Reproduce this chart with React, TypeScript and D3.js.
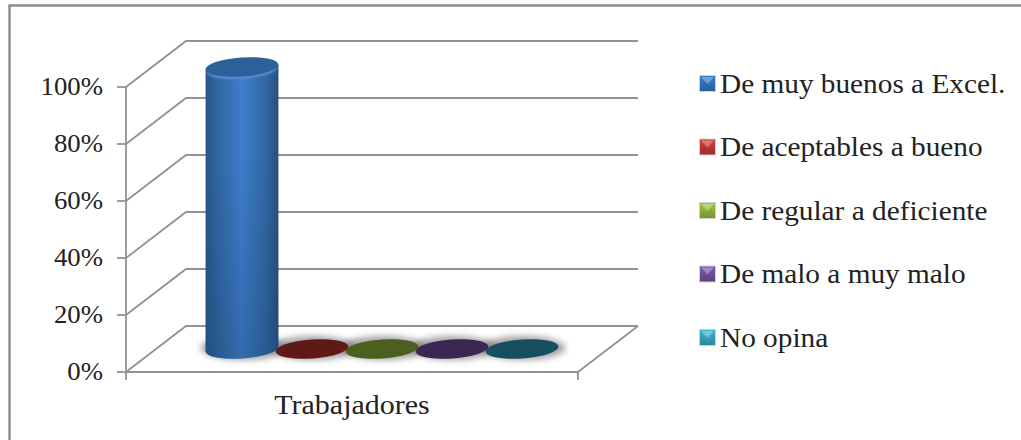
import React from "react";
import * as d3 from "d3";

const categoryLabel = "Trabajadores";
const seriesNames = ["De muy buenos a Excel.", "De aceptables a bueno", "De regular a deficiente", "De malo a muy malo", "No opina"];
const seriesValues = [100, 0, 0, 0, 0];
const tickValues = [0, 20, 40, 60, 80, 100];
const topColors = ["#2b6099", "#5f1a17", "#4c5f1e", "#3b2751", "#174f60"];
const swatchColors = ["#2f6cae", "#b53331", "#86a83a", "#6b4a94", "#2f9ab5"];

const WIDTH = 1021;
const HEIGHT = 440;
const FONT = "'Liberation Serif', 'Times New Roman', serif";
const GRID = "#929292";
const INK = "#222222";

// Chart geometry: front plane of the axis box and the depth offset to the back wall.
const FRONT_X0 = 126;
const FRONT_X1 = 578;
const DEPTH_X = 60;
const DEPTH_Y = -46;
const TILT = -4;

// Horizontally stretched text, as the chart's labels are wider than the plain face.
function Label(props: { x: number; y: number; sx: number; size: number; anchor?: string; children: React.ReactNode }) {
  return (
    <text
      transform={`translate(${props.x},${props.y}) scale(${props.sx},1)`}
      textAnchor={props.anchor ?? "start"}
      fontSize={props.size}
      fill={INK}
    >
      {props.children}
    </text>
  );
}

export default function App() {
  const y = d3.scaleLinear().domain([0, 100]).range([372, 87]);
  const band = d3.scaleBand<number>().domain(d3.range(seriesNames.length)).range([207, 557]);
  const baseY = 349;
  const rx = 36.5;
  const ry = 9.5;
  const rad = (TILT * Math.PI) / 180;
  const ex = rx * Math.cos(rad);
  const ey = rx * Math.sin(rad);

  return (
    <svg
      width={WIDTH}
      height={HEIGHT}
      viewBox={`0 0 ${WIDTH} ${HEIGHT}`}
      style={{ position: "absolute", left: 0, top: 0, display: "block" }}
      fontFamily={FONT}
    >
      <defs>
        <filter id="soft" x="-30%" y="-80%" width="160%" height="260%">
          <feGaussianBlur stdDeviation="3" />
        </filter>
        <filter id="bevel" x="-10%" y="-30%" width="120%" height="160%">
          <feGaussianBlur stdDeviation="1.2" />
        </filter>
        <linearGradient id="barSide" x1="0" x2="1" y1="0" y2="0">
          <stop offset="0" stopColor="#28568a" />
          <stop offset="0.15" stopColor="#30659e" />
          <stop offset="0.5" stopColor="#3e7ecb" />
          <stop offset="0.85" stopColor="#30659e" />
          <stop offset="1" stopColor="#264f7c" />
        </linearGradient>
        <linearGradient id="barFade" x1="0" x2="0" y1="0" y2="1">
          <stop offset="0.3" stopColor="#143a66" stopOpacity="0" />
          <stop offset="1" stopColor="#143a66" stopOpacity="0.28" />
        </linearGradient>
        {swatchColors.map((c, i) => (
          <linearGradient key={c} id={`swatch${i}`} x1="0" x2="0" y1="0" y2="1">
            <stop offset="0" stopColor={d3.color(c)!.brighter(0.5).formatHex()} />
            <stop offset="1" stopColor={d3.color(c)!.darker(0.4).formatHex()} />
          </linearGradient>
        ))}
      </defs>

      <rect width={WIDTH} height={HEIGHT} fill="#ffffff" />
      {/* Outer frame: only its top and left edges fall inside the canvas */}
      <path d={`M${WIDTH},5.5 L9.5,5.5 L9.5,${HEIGHT}`} fill="none" stroke="#8c8c8c" strokeWidth={2.4} />

      {/* Back-wall gridlines with their diagonal run to the front plane */}
      {tickValues.map((t) => (
        <g key={t} fill="none" stroke={GRID} strokeWidth={1.8}>
          <polyline
            points={[
              [FRONT_X0, y(t)],
              [FRONT_X0 + DEPTH_X, y(t) + DEPTH_Y],
              [FRONT_X1 + DEPTH_X, y(t) + DEPTH_Y],
            ].join(" ")}
          />
          <line x1={FRONT_X0 - 9} x2={FRONT_X0} y1={y(t)} y2={y(t)} />
        </g>
      ))}

      {/* Floor front edge, right diagonal and the axis itself */}
      <g stroke={GRID} strokeWidth={1.8} fill="none">
        <line x1={FRONT_X0} x2={FRONT_X1} y1={y(0)} y2={y(0)} />
        <line x1={FRONT_X1} x2={FRONT_X1 + DEPTH_X} y1={y(0)} y2={y(0) + DEPTH_Y} />
        <line x1={FRONT_X0} x2={FRONT_X0} y1={y(100)} y2={y(0) + 8} />
        <line x1={FRONT_X1} x2={FRONT_X1} y1={y(0)} y2={y(0) + 8} />
      </g>

      {tickValues.map((t) => (
        <Label key={t} x={103} y={y(t) + 8} sx={1.05} size={25.5} anchor="end">
          {t}%
        </Label>
      ))}

      {/* Soft floor shadows sit under every cylinder */}
      {seriesValues.map((_, i) => {
        const cx = band(i)! + band.bandwidth() / 2;
        return (
          <ellipse key={i} cx={cx + 1} cy={baseY - 1} rx={rx + 6} ry={ry + 2.5} fill="#666" opacity={0.6} filter="url(#soft)" />
        );
      })}

      {/* Cylinders, drawn from their values */}
      {seriesValues.map((v, i) => {
        const cx = band(i)! + band.bandwidth() / 2;
        const h = ((y(0) - y(v)) * 282) / 285;
        const top = baseY - h;
        const side = `M${cx - ex},${top - ey} L${cx - ex},${baseY - ey} A${rx},${ry} ${TILT} 0 0 ${cx + ex},${baseY + ey} L${cx + ex},${top + ey} Z`;
        return (
          <g key={seriesNames[i]}>
            {v > 0 && (
              <>
                <path d={side} fill="url(#barSide)" />
                <path d={side} fill="url(#barFade)" />
                {/* Light bevel below the rim of the top face */}
                <ellipse
                  transform={`rotate(${TILT} ${cx} ${top + 2})`}
                  cx={cx}
                  cy={top + 2}
                  rx={rx - 1}
                  ry={ry}
                  fill="#5a94d8"
                  filter="url(#bevel)"
                />
              </>
            )}
            <ellipse transform={`rotate(${TILT} ${cx} ${top})`} cx={cx} cy={top} rx={rx} ry={ry} fill={topColors[i]} />
          </g>
        );
      })}

      <Label x={352} y={414} sx={1.11} size={27} anchor="middle">
        {categoryLabel}
      </Label>

      {/* Legend */}
      {seriesNames.map((name, i) => {
        const ly = 82 + i * 63.5;
        return (
          <g key={name}>
            <rect x={699.5} y={ly - 6.5} width={16} height={16} fill={`url(#swatch${i})`} stroke="#cfcfcf" strokeWidth={1} />
            <path d={`M701,${ly - 5} L714,${ly - 5} L707.5,${ly + 2} Z`} fill="#ffffff" opacity={0.3} />
            <Label x={720} y={ly + 10.5} sx={1.085} size={27}>
              {name}
            </Label>
          </g>
        );
      })}
    </svg>
  );
}
